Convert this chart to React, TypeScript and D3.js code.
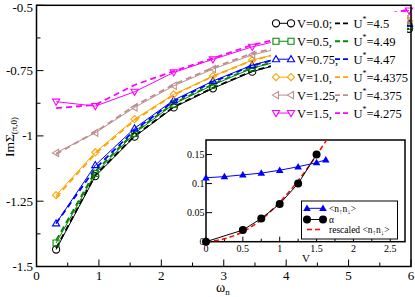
import * as d3 from "d3";

const W = 415;
const H = 297;
const FRAME = { left: 36.5, right: 411, top: 5.3, bottom: 266.5 };
const INSET = { left: 206, right: 405, top: 140, bottom: 241.7 };
const FONT = "'Liberation Serif', 'Times New Roman', serif";

// Matsubara frequencies (beta = 10), last visible one sits at the right edge
const omega = [0.314, 0.942, 1.571, 2.199, 2.827, 3.456, 5.969];

// Im Sigma(pi,0), solid lines with markers
const sigV0 = [-1.435, -1.154, -1.003, -0.891, -0.818, -0.754, -0.59];
const sigV05 = [-1.41, -1.144, -0.99, -0.878, -0.805, -0.741, -0.58];
const sigV075 = [-1.335, -1.112, -0.971, -0.863, -0.79, -0.729, -0.57];
const sigV1 = [-1.227, -1.063, -0.936, -0.841, -0.771, -0.71, -0.56];
const sigV125 = [-1.065, -0.988, -0.891, -0.808, -0.744, -0.69, -0.545];
const sigV15 = [-0.869, -0.886, -0.831, -0.757, -0.707, -0.659, -0.52];

// rescaled U* curves, dashed
const sigU45 = [-1.43, -1.15, -1.0, -0.889, -0.816, -0.752, -0.59];
const sigU449 = [-1.4, -1.136, -0.985, -0.875, -0.802, -0.739, -0.58];
const sigU447 = [-1.335, -1.125, -0.978, -0.868, -0.793, -0.731, -0.57];
const sigU44375 = [-1.235, -1.068, -0.94, -0.843, -0.772, -0.711, -0.56];
const sigU4375 = [-1.07, -0.985, -0.885, -0.803, -0.739, -0.684, -0.545];
const sigU4275 = [-0.894, -0.881, -0.805, -0.752, -0.703, -0.652, -0.515];

const vLabels = ["V=0.0;", "V=0.5,", "V=0.75,", "V=1.0,", "V=1.25,", "V=1.5,"];
const uLabels = ["4.5", "4.49", "4.47", "4.4375", "4.375", "4.275"];

const xTicks = [0, 1, 2, 3, 4, 5, 6];
const xMinor = [0.5, 1.5, 2.5, 3.5, 4.5, 5.5];
const yTicks = [-1.5, -1.25, -1, -0.75, -0.5];
const yTickLabels = ["-1.5", "-1.25", "-1", "-0.75", "-0.5"];
const yMinor = [-1.375, -1.125, -0.875, -0.625];

// inset
const vDocc = [0, 0.25, 0.5, 0.75, 1.0, 1.25, 1.5, 1.625];
const docc = [0.11, 0.112, 0.115, 0.118, 0.123, 0.129, 0.136, 0.141];
const vAlpha = [0, 0.5, 0.75, 1.0, 1.25, 1.5];
const alpha = [0, 0.02, 0.04, 0.065, 0.1, 0.15];
const vResc = [0, 0.25, 0.5, 0.75, 1.0, 1.25, 1.5, 1.625, 1.75];
const resc = [0, 0.005, 0.017, 0.038, 0.068, 0.105, 0.149, 0.173, 0.2];

const ixTicks = [0, 0.5, 1, 1.5, 2, 2.5];
const ixTickLabels = ["0", "0.5", "1", "1.5", "2", "2.5"];
const ixMinor = [0.25, 0.75, 1.25, 1.75, 2.25];
const iyTicks = [0, 0.05, 0.1, 0.15];
const iyTickLabels = ["0", "0.05", "0.1", "0.15"];

type Shape = "circle" | "square" | "triUp" | "diamond" | "triLeft" | "triDown";

const series = [
  { color: "#000000", shape: "circle" as Shape, solid: sigV0, dashed: sigU45 },
  { color: "#008b00", shape: "square" as Shape, solid: sigV05, dashed: sigU449 },
  { color: "#0000ff", shape: "triUp" as Shape, solid: sigV075, dashed: sigU447 },
  { color: "#ffa500", shape: "diamond" as Shape, solid: sigV1, dashed: sigU44375 },
  { color: "#bc8f8f", shape: "triLeft" as Shape, solid: sigV125, dashed: sigU4375 },
  { color: "#ff00ff", shape: "triDown" as Shape, solid: sigV15, dashed: sigU4275 },
];

function markerPath(shape: Shape, cx: number, cy: number, s = 3.6) {
  switch (shape) {
    case "circle":
      return `M${cx - s},${cy}a${s},${s} 0 1,0 ${2 * s},0a${s},${s} 0 1,0 ${-2 * s},0Z`;
    case "square": {
      const h = s * 0.85;
      return `M${cx - h},${cy - h}h${2 * h}v${2 * h}h${-2 * h}Z`;
    }
    case "diamond":
      return `M${cx},${cy - s}L${cx + s},${cy}L${cx},${cy + s}L${cx - s},${cy}Z`;
    case "triUp":
      return `M${cx},${cy - s}L${cx + s},${cy + s * 0.7}L${cx - s},${cy + s * 0.7}Z`;
    case "triDown":
      return `M${cx},${cy + s}L${cx + s},${cy - s * 0.7}L${cx - s},${cy - s * 0.7}Z`;
    case "triLeft":
      return `M${cx - s},${cy}L${cx + s * 0.7},${cy - s}L${cx + s * 0.7},${cy + s}Z`;
  }
}

export default function App() {
  const x = d3.scaleLinear().domain([0, 6]).range([FRAME.left, FRAME.right]);
  const y = d3.scaleLinear().domain([-1.5, -0.5]).range([FRAME.bottom, FRAME.top]);
  const ix = d3.scaleLinear().domain([0, 2.7]).range([INSET.left, INSET.right]);
  const iy = d3.scaleLinear().domain([0, 0.175]).range([INSET.bottom, INSET.top]);

  const line = d3
    .line<number>()
    .x((_, i) => x(omega[i]))
    .y((d) => y(d));

  const insetLine = (xs: number[]) =>
    d3
      .line<number>()
      .x((_, i) => ix(xs[i]))
      .y((d) => iy(d));

  const rescLine = d3
    .line<number>()
    .x((_, i) => ix(vResc[i]))
    .y((d) => iy(d))
    .curve(d3.curveMonotoneX);

  const legendX = 276;
  const legendY0 = 23.3;
  const legendDy = 17.95;

  return (
    <div style={{ position: "fixed", left: 0, top: 0 }}>
      <svg width={W} height={H} style={{ display: "block", background: "white", fontFamily: FONT }}>
        <defs>
          <clipPath id="inset-clip">
            <rect x={INSET.left} y={INSET.top} width={INSET.right - INSET.left} height={INSET.bottom - INSET.top} />
          </clipPath>
        </defs>

        {/* dashed U* curves */}
        {series.map((s, k) => (
          <path key={"d" + k} d={line(s.dashed) ?? ""} fill="none" stroke={s.color} strokeWidth={1.8} strokeDasharray="6 4" />
        ))}

        {/* solid curves with markers */}
        {series.map((s, k) => (
          <g key={"s" + k}>
            <path d={line(s.solid) ?? ""} fill="none" stroke={s.color} strokeWidth={1} />
            {s.solid.map((v, i) => (
              <path key={i} d={markerPath(s.shape, x(omega[i]), y(v))} fill="none" stroke={s.color} strokeWidth={1.1} />
            ))}
          </g>
        ))}

        {/* legend */}
        <rect x={271} y={12} width={136} height={110} fill="white" />
        {series.map((s, k) => {
          const cy = legendY0 + k * legendDy;
          return (
            <g key={"l" + k}>
              <line x1={legendX} x2={legendX + 15} y1={cy} y2={cy} stroke={s.color} strokeWidth={1} />
              <path d={markerPath(s.shape, legendX, cy)} fill="white" stroke={s.color} strokeWidth={1.1} />
              <path d={markerPath(s.shape, legendX + 15, cy)} fill="white" stroke={s.color} strokeWidth={1.1} />
              <text x={297} y={cy + 4.5} fontSize={12.5}>
                {vLabels[k]}
              </text>
              <line x1={335} x2={348} y1={cy} y2={cy} stroke={s.color} strokeWidth={1.8} strokeDasharray="5 3" />
              <text x={353.5} y={cy + 4.5} fontSize={12.5}>
                U
                <tspan dy={-6} fontSize={8}>
                  *
                </tspan>
                <tspan dy={6}>={uLabels[k]}</tspan>
              </text>
            </g>
          );
        })}

        {/* main frame and ticks */}
        <rect
          x={FRAME.left}
          y={FRAME.top}
          width={FRAME.right - FRAME.left}
          height={FRAME.bottom - FRAME.top}
          fill="none"
          stroke="black"
          strokeWidth={1.5}
        />
        {xTicks.map((t) => (
          <g key={"xt" + t}>
            <line x1={x(t)} x2={x(t)} y1={FRAME.bottom} y2={FRAME.bottom - 7} stroke="black" strokeWidth={1} />
            <text x={x(t)} y={280} fontSize={13} textAnchor="middle">
              {t}
            </text>
          </g>
        ))}
        {xMinor.map((t) => (
          <line key={"xm" + t} x1={x(t)} x2={x(t)} y1={FRAME.bottom} y2={FRAME.bottom - 4} stroke="black" strokeWidth={1} />
        ))}
        {yTicks.map((t, i) => (
          <g key={"yt" + t}>
            <line x1={FRAME.left} x2={FRAME.left + 7} y1={y(t)} y2={y(t)} stroke="black" strokeWidth={1} />
            <text x={33} y={Math.max(y(t) + 4.5, 11.8)} fontSize={13} textAnchor="end">
              {yTickLabels[i]}
            </text>
          </g>
        ))}
        {yMinor.map((t) => (
          <line key={"ym" + t} x1={FRAME.left} x2={FRAME.left + 4} y1={y(t)} y2={y(t)} stroke="black" strokeWidth={1} />
        ))}

        {/* axis titles */}
        <text x={216} y={291.5} fontSize={14}>
          ω<tspan dy={3.2} fontSize={9}>n</tspan>
        </text>
        <text transform="translate(13.5,137) rotate(-90)" fontSize={13.5} textAnchor="middle">
          ImΣ
          <tspan dy={3.5} fontSize={9}>
            (π,0)
          </tspan>
        </text>

        {/* inset */}
        <rect
          x={INSET.left}
          y={INSET.top}
          width={INSET.right - INSET.left}
          height={INSET.bottom - INSET.top}
          fill="white"
          stroke="black"
          strokeWidth={1.5}
        />
        {ixTicks.map((t, i) => (
          <g key={"ixt" + t}>
            <line x1={ix(t)} x2={ix(t)} y1={INSET.bottom} y2={INSET.bottom - 5} stroke="black" strokeWidth={1} />
            <text x={ix(t)} y={251.5} fontSize={10} textAnchor="middle">
              {ixTickLabels[i]}
            </text>
          </g>
        ))}
        {ixMinor.map((t) => (
          <line key={"ixm" + t} x1={ix(t)} x2={ix(t)} y1={INSET.bottom} y2={INSET.bottom - 3} stroke="black" strokeWidth={1} />
        ))}
        {iyTicks.map((t, i) => (
          <g key={"iyt" + t}>
            <line x1={INSET.left} x2={INSET.left + 6} y1={iy(t)} y2={iy(t)} stroke="black" strokeWidth={1} />
            <text x={INSET.left - 1.5} y={iy(t) + 3.5} fontSize={10} textAnchor="end">
              {iyTickLabels[i]}
            </text>
          </g>
        ))}
        <text x={306} y={262} fontSize={11} textAnchor="middle">
          V
        </text>

        <g clipPath="url(#inset-clip)">
          <path d={rescLine(resc) ?? ""} fill="none" stroke="#ff0000" strokeWidth={1.5} strokeDasharray="5 3" />
        </g>
        <path d={insetLine(vDocc)(docc) ?? ""} fill="none" stroke="#0000ff" strokeWidth={1} />
        {docc.map((v, i) => (
          <path key={"dt" + i} d={markerPath("triUp", ix(vDocc[i]), iy(v), 3.8)} fill="#0000ff" />
        ))}
        <path d={insetLine(vAlpha)(alpha) ?? ""} fill="none" stroke="black" strokeWidth={1} />
        {alpha.map((v, i) => (
          <circle key={"al" + i} cx={ix(vAlpha[i])} cy={iy(v)} r={4} fill="black" />
        ))}

        {/* inset legend */}
        <rect x={301.5} y={201} width={96} height={38} fill="white" stroke="black" strokeWidth={1} />
        <line x1={307} x2={323} y1={208.3} y2={208.3} stroke="#0000ff" strokeWidth={1} />
        <path d={markerPath("triUp", 307, 208.3, 3.8)} fill="#0000ff" />
        <path d={markerPath("triUp", 323, 208.3, 3.8)} fill="#0000ff" />
        <text x={329} y={211.5} fontSize={9.5}>
          {"<n"}
          <tspan dy={2} fontSize={7}>↑</tspan>
          <tspan dy={-2}>n</tspan>
          <tspan dy={2} fontSize={7}>↓</tspan>
          <tspan dy={-2}>{">"}</tspan>
        </text>
        <line x1={307} x2={323} y1={219.5} y2={219.5} stroke="black" strokeWidth={1} />
        <circle cx={307} cy={219.5} r={4} fill="black" />
        <circle cx={323} cy={219.5} r={4} fill="black" />
        <text x={329} y={222.8} fontSize={9.5}>
          α
        </text>
        <line x1={307} x2={323} y1={229.5} y2={229.5} stroke="#ff0000" strokeWidth={1.5} strokeDasharray="5 3" />
        <text x={329} y={232.8} fontSize={9.5}>
          {"rescaled <n"}
          <tspan dy={2} fontSize={7}>↑</tspan>
          <tspan dy={-2}>n</tspan>
          <tspan dy={2} fontSize={7}>↓</tspan>
          <tspan dy={-2}>{">"}</tspan>
        </text>
      </svg>
    </div>
  );
}
